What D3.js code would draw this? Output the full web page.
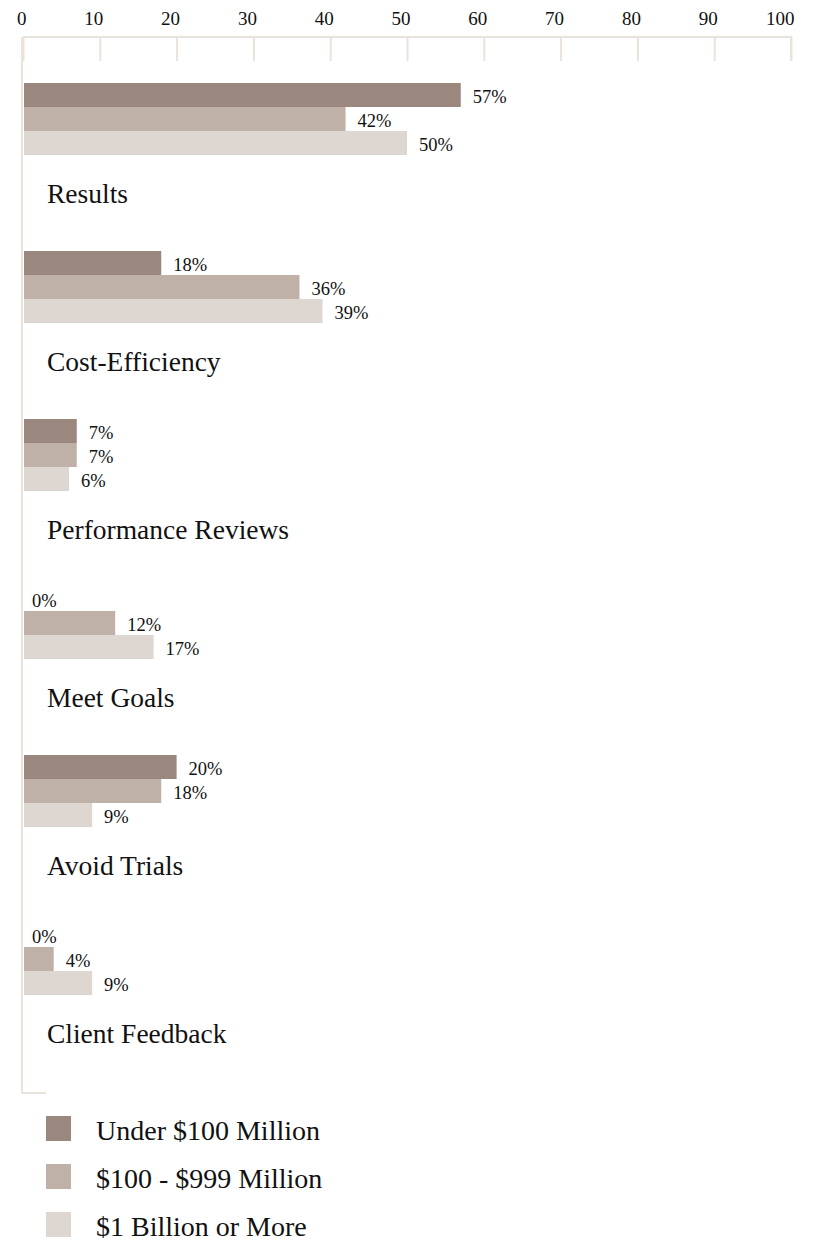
<!DOCTYPE html>
<html>
<head>
<meta charset="utf-8">
<script src="https://cdn.jsdelivr.net/npm/d3@7"></script>
<style>
  body { margin: 0; background: #fff; }
  text { font-family: "Liberation Serif", "DejaVu Serif", serif; fill: #111; }
</style>
</head>
<body>
<div id="chart-area"></div>
<script>
const svgWidth = 815,
      svgHeight = 1241;

// data
const categories = ["Results", "Cost-Efficiency", "Performance Reviews", "Meet Goals", "Avoid Trials", "Client Feedback"];
const seriesNames = ["Under $100 Million", "$100 - $999 Million", "$1 Billion or More"];
const under100M = [57, 18, 7, 0, 20, 0];
const mid100to999M = [42, 36, 7, 12, 18, 4];
const over1B = [50, 39, 6, 17, 9, 9];
const tickValues = [0, 10, 20, 30, 40, 50, 60, 70, 80, 90, 100];

const seriesValues = [under100M, mid100to999M, over1B];
const colors = ["#9a877d", "#bfb0a8", "#ded6d1"];
const axisColor = "#e9e3dc";

const axisY = 37;
const groupTop = 83, groupStep = 168, barH = 24;

const svg = d3.select("#chart-area")
  .append("svg")
  .attr("width", svgWidth)
  .attr("height", svgHeight);

const x = d3.scaleLinear().domain([0, 100]).range([23, 791]);
const y = d3.scaleBand().domain(categories)
  .range([groupTop, groupTop + groupStep * categories.length])
  .paddingInner(0).paddingOuter(0);
const ySub = d3.scaleBand().domain(d3.range(seriesNames.length))
  .range([0, barH * seriesNames.length]);
const color = d3.scaleOrdinal().domain(d3.range(seriesNames.length)).range(colors);

// top axis
const xAxisCall = d3.axisTop(x)
  .tickValues(tickValues)
  .tickSize(-24)
  .tickSizeOuter(-24)
  .tickPadding(13)
  .tickFormat(d3.format("d"));

const xAxisGroup = svg.append("g")
  .attr("transform", `translate(0, ${axisY})`)
  .call(xAxisCall)
  .attr("font-family", null)
  .attr("font-size", null);

xAxisGroup.selectAll("path, line")
  .attr("stroke", axisColor)
  .attr("stroke-width", 2);
xAxisGroup.selectAll(".tick text")
  .attr("font-family", "Liberation Serif, serif")
  .attr("font-size", "19px")
  .attr("fill", "#111")
  .attr("text-anchor", "end")
  .attr("x", 3)
  .attr("y", -12);
xAxisGroup.select(".domain").remove();
xAxisGroup.append("path")
  .attr("d", `M${x(100)},24 V0 H${x(0)}`)
  .attr("fill", "none")
  .attr("stroke", axisColor)
  .attr("stroke-width", 2);

// left spine
const bottomY = 1093;
svg.append("path")
  .attr("d", `M${x(0) - 1},${axisY} V${bottomY} H46`)
  .attr("fill", "none")
  .attr("stroke", axisColor)
  .attr("stroke-width", 2);

// bars
const rows = [];
categories.forEach((c, i) => {
  seriesValues.forEach((vals, s) => {
    rows.push({ category: c, series: s, value: vals[i] });
  });
});

svg.selectAll("rect.bar")
  .data(rows)
  .enter().append("rect")
  .attr("class", "bar")
  .attr("x", x(0) + 1)
  .attr("y", d => y(d.category) + ySub(d.series))
  .attr("width", d => Math.max(0, x(d.value) - x(0) - 1))
  .attr("height", ySub.bandwidth())
  .attr("fill", d => color(d.series));

svg.selectAll("text.value")
  .data(rows)
  .enter().append("text")
  .attr("class", "value")
  .attr("x", d => x(d.value) + (d.value > 0 ? 12 : 9))
  .attr("y", d => y(d.category) + ySub(d.series) + ySub.bandwidth() / 2 + 7.5)
  .attr("font-size", "18.5px")
  .text(d => `${d.value}%`);

// category labels
svg.selectAll("text.cat")
  .data(categories)
  .enter().append("text")
  .attr("class", "cat")
  .attr("x", 47)
  .attr("y", d => y(d) + 120)
  .attr("font-size", "27.5px")
  .text(d => d);

// legend
const legend = svg.selectAll("g.legend")
  .data(seriesNames)
  .enter().append("g")
  .attr("class", "legend")
  .attr("transform", (d, i) => `translate(46, ${1116 + i * 48})`);

legend.append("rect")
  .attr("width", 25)
  .attr("height", 25)
  .attr("fill", (d, i) => color(i));

legend.append("text")
  .attr("x", 50)
  .attr("y", 24)
  .attr("font-size", "28px")
  .text(d => d);
</script>
</body>
</html>
